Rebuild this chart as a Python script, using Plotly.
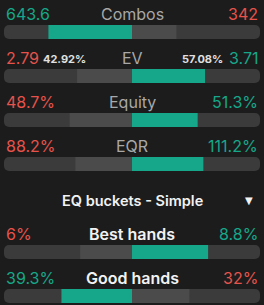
import plotly.graph_objects as go

# ---- data ----
metrics = ["Combos", "EV", "Equity", "EQR", "Best hands", "Good hands"]
left_values = [643.6, 2.79, 48.7, 88.2, 6.0, 39.3]
right_values = [342.0, 3.71, 51.3, 111.2, 8.8, 32.0]
left_labels = ["643.6", "2.79", "48.7%", "88.2%", "6%", "39.3%"]
right_labels = ["342", "3.71", "51.3%", "111.2%", "8.8%", "32%"]
ev_share_left = "42.92%"
ev_share_right = "57.08%"
bucket_title = "EQ buckets - Simple"

# ---- layout constants ----
BG = "#1c1c1c"
TRACK = "#3b3b3b"
LOSER = "#4b4b4b"
TEAL = "#16a78a"
RED = "#e5534b"
GREY_TXT = "#a8a8a8"
WHITE_TXT = "#f2f2f2"
HALF = 128
text_y = [14, 58, 102, 146, 234, 278]
bar_y = [t + 18 for t in text_y]
label_colors = [GREY_TXT, GREY_TXT, GREY_TXT, GREY_TXT, WHITE_TXT, WHITE_TXT]
label_weights = [400, 400, 400, 400, 600, 600]
FONT = "Inter"

fig = go.Figure()

# track
fig.add_trace(go.Bar(
    orientation="h", y=bar_y, x=[2 * HALF] * len(bar_y), base=[-HALF] * len(bar_y),
    width=14, marker=dict(color=TRACK, cornerradius=5, line_width=0),
    hoverinfo="skip", showlegend=False))

lx, lb, lc, rx, rc = [], [], [], [], []
for lv, rv in zip(left_values, right_values):
    tot = lv + rv
    L = HALF * lv / tot
    R = HALF * rv / tot
    lx.append(L); lb.append(-L)
    rx.append(R)
    lc.append(TEAL if lv > rv else LOSER)
    rc.append(TEAL if rv > lv else LOSER)

fig.add_trace(go.Bar(orientation="h", y=bar_y, x=lx, base=lb, width=14,
                     marker=dict(color=lc, line_width=0), hoverinfo="skip", showlegend=False))
fig.add_trace(go.Bar(orientation="h", y=bar_y, x=rx, base=[0] * len(rx), width=14,
                     marker=dict(color=rc, line_width=0), hoverinfo="skip", showlegend=False))

ann = []
for i, m in enumerate(metrics):
    lv, rv = left_values[i], right_values[i]
    ann.append(dict(x=-HALF, y=text_y[i], text=left_labels[i], xanchor="left", yanchor="middle",
                    showarrow=False, font=dict(family=FONT, size=16,
                                               color=TEAL if lv > rv else RED)))
    ann.append(dict(x=HALF, y=text_y[i], text=right_labels[i], xanchor="right", yanchor="middle",
                    showarrow=False, font=dict(family=FONT, size=16,
                                               color=TEAL if rv > lv else RED)))
    ann.append(dict(x=0, y=text_y[i], text=m, xanchor="center", yanchor="middle",
                    showarrow=False, font=dict(family=FONT, size=16, color=label_colors[i],
                                               weight=label_weights[i])))

ann.append(dict(x=-91, y=text_y[1] + 1, text=ev_share_left, xanchor="left", yanchor="middle",
                showarrow=False, font=dict(family=FONT, size=11, color="#e0e0e0", weight=700)))
ann.append(dict(x=93, y=text_y[1] + 1, text=ev_share_right, xanchor="right", yanchor="middle",
                showarrow=False, font=dict(family=FONT, size=11, color="#e0e0e0", weight=700)))
ann.append(dict(x=0, y=200, text=bucket_title, xanchor="center", yanchor="middle",
                showarrow=False, font=dict(family=FONT, size=14.5, color=WHITE_TXT, weight=600)))
ann.append(dict(x=117, y=200, text="▼", xanchor="center", yanchor="middle",
                showarrow=False, font=dict(family="DejaVu Sans", size=10, color=WHITE_TXT)))

fig.update_layout(
    width=264, height=305, margin=dict(l=0, r=0, t=0, b=0),
    paper_bgcolor=BG, plot_bgcolor=BG, barmode="overlay",
    xaxis=dict(range=[-132, 132], visible=False, fixedrange=True),
    yaxis=dict(range=[305, 0], visible=False, fixedrange=True),
    annotations=ann, showlegend=False,
)

fig.write_html("out.html", config={"displayModeBar": False})
